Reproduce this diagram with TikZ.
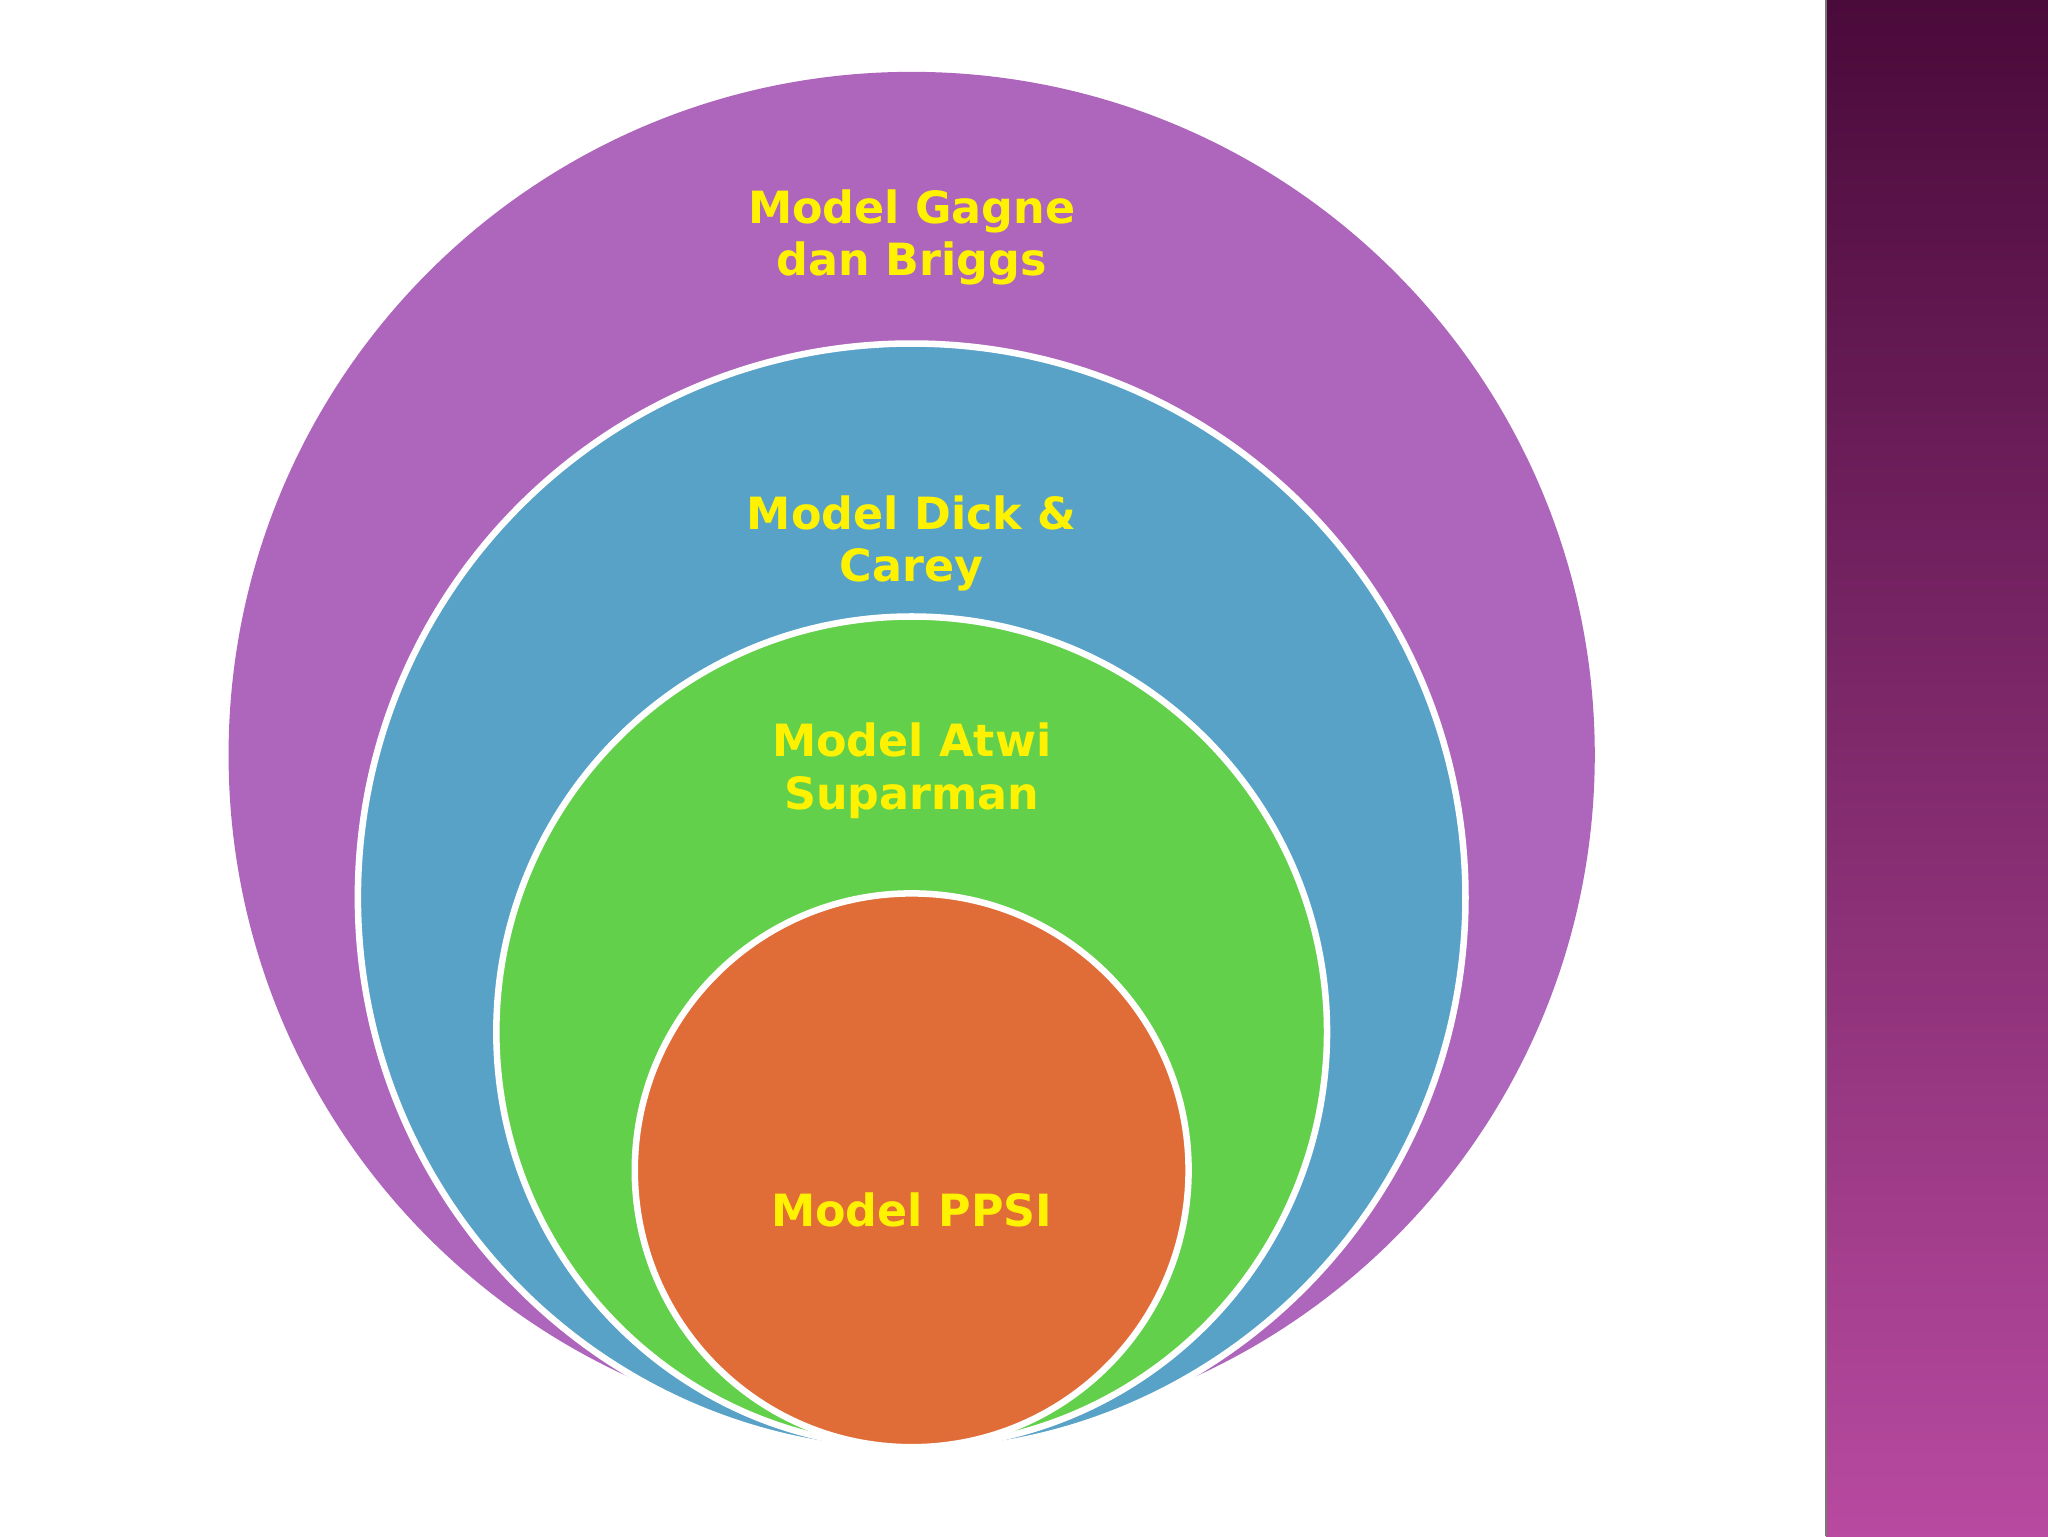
\documentclass[tikz,border=0pt]{standalone}
\usepackage{fontspec}
\setmainfont{DejaVu Sans}
\begin{document}
\begin{tikzpicture}[x=1pt,y=-1pt,
  ring/.style={draw=white,line width=5pt},
  lbl/.style={text=yellow,font=\fontsize{34}{40}\selectfont\bfseries,align=center}]
\useasboundingbox (0,0) rectangle (1568,1176);
\fill[white] (0,0) rectangle (1568,1176);
\shade[top color={rgb,255:red,74;green,10;blue,58},bottom color={rgb,255:red,184;green,74;blue,160}] (1398,0) rectangle (1568,1176);
\draw[line width=1.5pt,color={rgb,255:red,120;green,120;blue,120}] (1398,0) -- (1398,1176);
\definecolor{cp}{RGB}{174,102,188}
\definecolor{cb}{RGB}{88,162,200}
\definecolor{cg}{RGB}{98,208,74}
\definecolor{co}{RGB}{224,108,56}
\fill[cp] (698,578) circle (523);
\draw[ring,fill=cb] (698,687) circle (424);
\draw[ring,fill=cg] (698,790) circle (318);
\draw[ring,fill=co] (698,896) circle (212);
\node[lbl] (a) at (698,182) {Model Gagne\\dan Briggs};
\node[lbl] (b) at (698,416) {Model Dick \&\\Carey};
\node[lbl] (c) at (698,590) {Model Atwi\\Suparman};
\node[lbl] (d) at (698,926) {Model PPSI};
\end{tikzpicture}
\end{document}
